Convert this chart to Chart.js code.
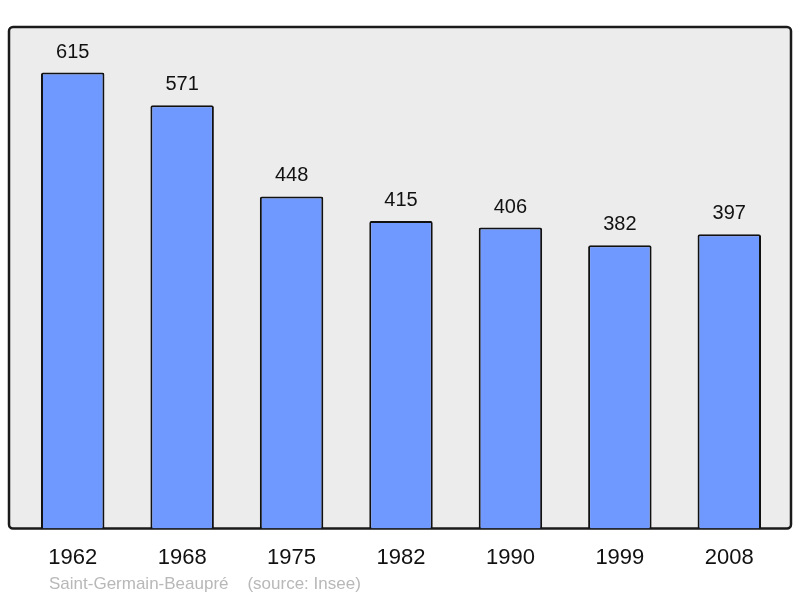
<!DOCTYPE html>
<html>
<head>
<meta charset="utf-8">
<script src="https://cdn.jsdelivr.net/npm/chart.js@4"></script>
<style>
  body { margin: 0; background: #fff; }
  #wrap { width: 800px; height: 598px; }
</style>
</head>
<body>
<div id="wrap"><canvas id="popChart"></canvas></div>
<script>
const years = ['1962', '1968', '1975', '1982', '1990', '1999', '2008'];
const population = [615, 571, 448, 415, 406, 382, 397];
const placeName = 'Saint-Germain-Beaupré';
const sourceNote = '(source: Insee)';

// cadre gris arrondi derrière les barres
const framePlugin = {
    id: 'frame',
    beforeDraw(chart) {
        const {ctx, chartArea: a} = chart;
        const x = a.left - 9, y = a.top, w = a.right - a.left + 16, h = a.bottom - a.top;
        ctx.save();
        ctx.beginPath();
        ctx.roundRect(x, y, w, h, 4);
        ctx.fillStyle = '#ececec';
        ctx.fill();
        ctx.lineWidth = 2.5;
        ctx.strokeStyle = '#1a1a1a';
        ctx.stroke();
        ctx.restore();
    },
    afterDatasetsDraw(chart) {
        const {ctx, chartArea: a} = chart;
        const meta = chart.getDatasetMeta(0);
        ctx.save();
        ctx.font = '20px "Liberation Sans", Arial, sans-serif';
        ctx.fillStyle = '#111';
        ctx.textAlign = 'center';
        ctx.textBaseline = 'alphabetic';
        meta.data.forEach((bar, i) => {
            ctx.fillText(String(population[i]), bar.x, bar.y - 15);
        });
        // légende source en bas
        ctx.font = '17px "Liberation Sans", Arial, sans-serif';
        ctx.fillStyle = '#b8b8b8';
        ctx.textAlign = 'left';
        ctx.textBaseline = 'middle';
        ctx.fillText(placeName + '    ' + sourceNote, a.left + 31, a.bottom + 56);
        ctx.restore();
    },
};

new Chart(document.getElementById('popChart'), {
    type: 'bar',
    data: {
        labels: years,
        datasets: [{
            data: population,
            backgroundColor: '#7099ff',
            borderColor: '#111',
            borderWidth: 2,
            borderSkipped: 'bottom',
            borderRadius: 2,
            barPercentage: 0.58,
            categoryPercentage: 1,
        }],
    },
    options: {
        responsive: true,
        maintainAspectRatio: false,
        animation: false,
        layout: {padding: {left: 18, right: 16, top: 27, bottom: 11}},
        plugins: {
            legend: {display: false},
            tooltip: {enabled: false},
        },
        scales: {
            x: {
                grid: {display: false, drawTicks: false},
                border: {display: false},
                ticks: {
                    color: '#111',
                    padding: 16,
                    font: {family: '"Liberation Sans", Arial, sans-serif', size: 22},
                },
            },
            y: {
                display: false,
                min: 0,
                max: 676.5,
            },
        },
    },
    plugins: [framePlugin],
});
</script>
</body>
</html>
